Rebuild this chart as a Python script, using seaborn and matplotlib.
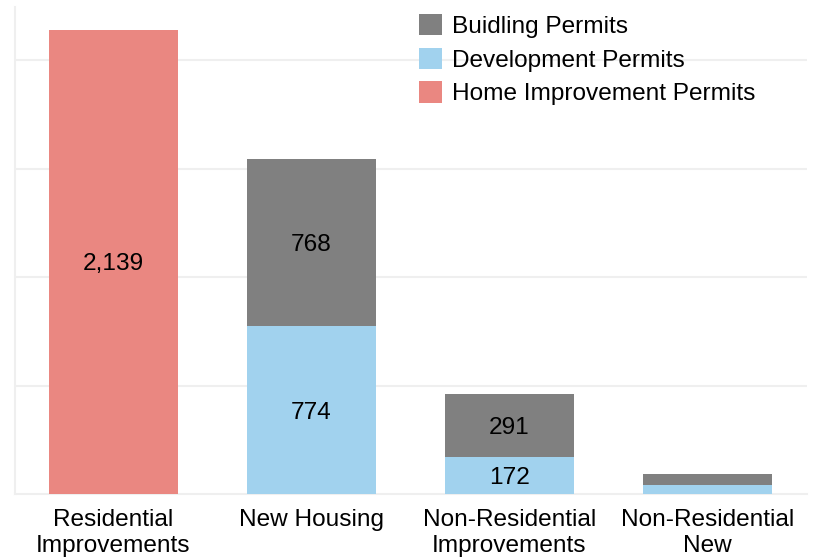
import matplotlib
matplotlib.use("Agg")
import matplotlib.pyplot as plt
from matplotlib.patches import Patch
import numpy as np
import pandas as pd
import seaborn as sns

categories = ["Residential\nImprovements", "New Housing", "Non-Residential\nImprovements", "Non-Residential\nNew"]
building_permits = [0, 768, 291, 54]
development_permits = [0, 774, 172, 40]
home_improvement_permits = [2139, 0, 0, 0]

series_names = ["Buidling Permits", "Development Permits", "Home Improvement Permits"]
colors = {"Buidling Permits": "#808080", "Development Permits": "#A1D2EE", "Home Improvement Permits": "#EA8781"}

df = pd.DataFrame({
    "category": categories,
    "building": building_permits,
    "development": development_permits,
    "home": home_improvement_permits,
})
df["dev_top"] = df["development"]
df["build_top"] = df["development"] + df["building"]

sns.set_style("white")
plt.rcParams["font.family"] = ["Liberation Sans", "DejaVu Sans"]
plt.rcParams["text.color"] = "black"
plt.rcParams["xtick.color"] = "black"

fs = 17.6

fig = plt.figure(figsize=(8.16, 5.6), dpi=100)
ax = fig.add_axes([14.5 / 816, 1 - 494 / 560, 792 / 816, 487 / 560])

# stacked bars: draw the totals first, then the lower segment over them
for col, name in [("build_top", "Buidling Permits"), ("dev_top", "Development Permits"),
                  ("home", "Home Improvement Permits")]:
    sns.barplot(data=df, x="category", y=col, color=colors[name], width=0.65,
                saturation=1, linewidth=0, ax=ax, zorder=3)

for i, row in df.iterrows():
    if row["home"] > 100:
        ax.text(i, row["home"] / 2, f"{row['home']:,}", ha="center", va="center_baseline", fontsize=fs, zorder=4)
    if row["development"] > 100:
        ax.text(i, row["development"] / 2, f"{row['development']:,}", ha="center", va="center_baseline",
                fontsize=fs, zorder=4)
    if row["building"] > 100:
        ax.text(i, row["development"] + row["building"] / 2, f"{row['building']:,}", ha="center",
                va="center_baseline", fontsize=fs, zorder=4)

ax.set_xlim(-0.5, 3.5)
ax.set_ylim(0, 2245)
ax.set_xlabel("")
ax.set_ylabel("")
ax.set_yticks([500, 1000, 1500, 2000])
ax.set_yticklabels([])
ax.tick_params(axis="y", length=0)
ax.yaxis.grid(True, color="#EFEFEF", linewidth=1.5, zorder=0)
ax.set_axisbelow(True)

ax.set_xticks(range(len(categories)))
ax.set_xticklabels(categories, fontsize=fs, linespacing=1.2)
ax.tick_params(axis="x", which="major", length=0, pad=11)
ax.set_xticks(np.arange(-0.5, len(categories)), minor=True)
ax.tick_params(axis="x", which="minor", length=8, color="#EFEFEF", width=1.5)

for side in ["top", "right"]:
    ax.spines[side].set_visible(False)
for side in ["left", "bottom"]:
    ax.spines[side].set_color("#EFEFEF")
    ax.spines[side].set_linewidth(1.5)

handles = [Patch(facecolor=colors[n], edgecolor="none") for n in series_names]
fig.legend(handles, series_names, loc="upper left", bbox_to_anchor=(419 / 816, 1 - 14 / 560),
           frameon=False, fontsize=fs, handlelength=0.95, handleheight=0.95, handletextpad=0.4,
           labelspacing=0.4, borderpad=0, borderaxespad=0)

fig.savefig("out.png", dpi=100)
